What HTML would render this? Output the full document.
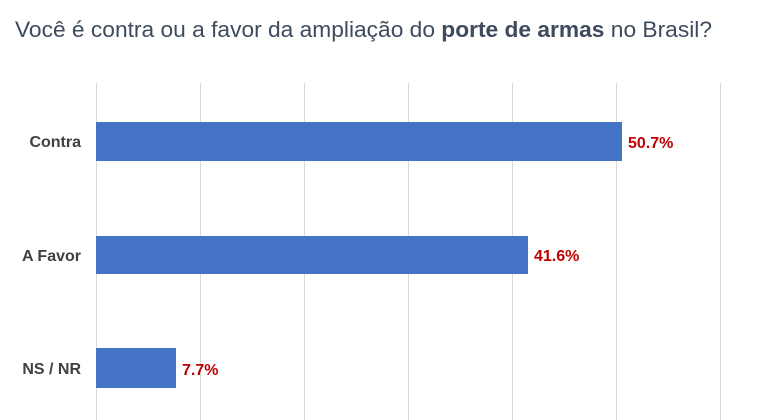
<!DOCTYPE html>
<html><head><meta charset="utf-8"><style>
html,body{margin:0;padding:0;background:#fff;}
svg{display:block;}
</style></head><body>
<svg width="768" height="420" xmlns="http://www.w3.org/2000/svg">
<rect width="768" height="420" fill="#fff"/>
<text x="15" y="37" font-family="Liberation Sans, sans-serif" font-size="22" fill="#3d4b5c" textLength="697" lengthAdjust="spacingAndGlyphs">Você é contra ou a favor da ampliação do <tspan font-weight="bold">porte de armas</tspan> no Brasil?</text>
<g stroke="#d9d9d9" stroke-width="1">
<line x1="96.5" y1="83" x2="96.5" y2="420"/>
<line x1="200.5" y1="83" x2="200.5" y2="420"/>
<line x1="304.5" y1="83" x2="304.5" y2="420"/>
<line x1="408.5" y1="83" x2="408.5" y2="420"/>
<line x1="512.5" y1="83" x2="512.5" y2="420"/>
<line x1="616.5" y1="83" x2="616.5" y2="420"/>
<line x1="720.5" y1="83" x2="720.5" y2="420"/>
</g>
<g fill="#4472c4">
<rect x="96" y="122" width="526" height="39"/>
<rect x="96" y="236" width="432" height="38"/>
<rect x="96" y="348" width="80" height="40"/>
</g>
<g font-family="Liberation Sans, sans-serif" font-size="16" font-weight="bold" fill="#404040" text-anchor="end">
<text x="81" y="147">Contra</text>
<text x="81" y="261">A Favor</text>
<text x="81" y="374">NS / NR</text>
</g>
<g font-family="Liberation Sans, sans-serif" font-size="16" font-weight="bold" fill="#c00000">
<text x="628" y="148">50.7%</text>
<text x="534" y="261">41.6%</text>
<text x="182" y="375">7.7%</text>
</g>
</svg>
</body></html>
